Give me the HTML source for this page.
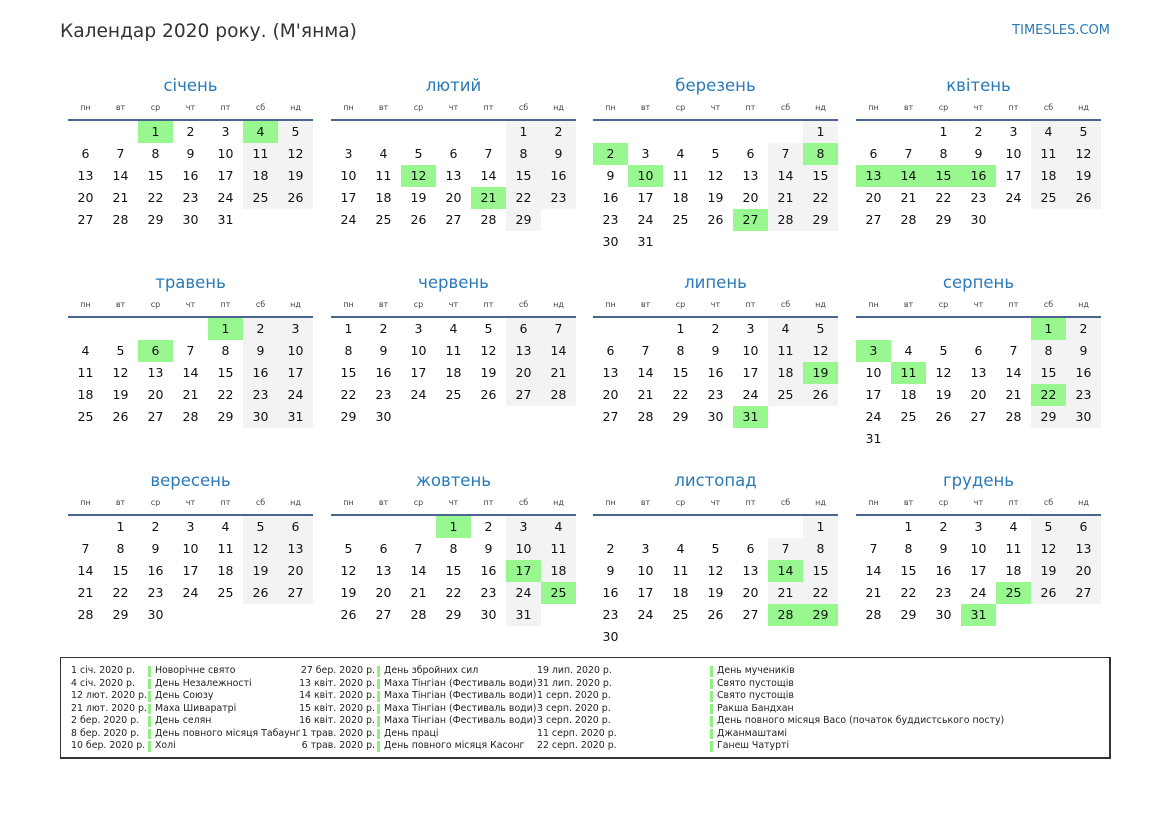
<!DOCTYPE html>
<html><head><meta charset="utf-8"><style>
body{margin:0;width:1169px;height:827px;background:#fff;font-family:"DejaVu Sans","Liberation Sans",sans-serif;position:relative;overflow:hidden}
.h1{position:absolute;left:60px;top:21px;font-size:18.6px;color:#333}
.site{position:absolute;right:59px;top:23px;font-size:13px;color:#2a7ab8}
.m{position:absolute;width:245px;height:200px}
.t{position:absolute;left:0;top:1px;width:245px;height:22px;line-height:22px;text-align:center;font-size:16.5px;color:#2a7ab8}
.d{position:absolute;left:0;top:29px;width:245px;display:flex;font-size:8px;color:#444}
.d span{width:35px;text-align:center}
.ln{position:absolute;left:0;top:45px;width:245px;height:2px;background:#4a6690}
table{position:absolute;left:0;top:47px;border-collapse:collapse}
td{width:35px;height:22px;padding:0;text-align:center;font-size:12.5px;color:#111;line-height:22px}
td.w{background:#f3f3f3}
td.h{background:#99f78f}
.lg{position:absolute;left:60px;top:657px;width:1048px;height:99px;border:1px solid #333;border-width:1px 2px 2px 1px}
.c{position:absolute;top:7px;font-size:9.4px;line-height:12.5px;color:#222;white-space:nowrap}
.b{position:absolute;top:8px;width:3px}
.b i{display:block;height:10.5px;margin-bottom:2px;background:#8ef07f}
</style></head><body>
<div class="h1">Календар 2020 року. (М'янма)</div>
<div class="site">TIMESLES.COM</div>

<div class="m" style="left:68px;top:74px"><div class="t">січень</div><div class="d"><span>пн</span><span>вт</span><span>ср</span><span>чт</span><span>пт</span><span>сб</span><span>нд</span></div><div class="ln"></div><table>
<tr><td></td><td></td><td class="h">1</td><td>2</td><td>3</td><td class="h">4</td><td class="w">5</td></tr>
<tr><td>6</td><td>7</td><td>8</td><td>9</td><td>10</td><td class="w">11</td><td class="w">12</td></tr>
<tr><td>13</td><td>14</td><td>15</td><td>16</td><td>17</td><td class="w">18</td><td class="w">19</td></tr>
<tr><td>20</td><td>21</td><td>22</td><td>23</td><td>24</td><td class="w">25</td><td class="w">26</td></tr>
<tr><td>27</td><td>28</td><td>29</td><td>30</td><td>31</td><td></td><td></td></tr></table></div>

<div class="m" style="left:331px;top:74px"><div class="t">лютий</div><div class="d"><span>пн</span><span>вт</span><span>ср</span><span>чт</span><span>пт</span><span>сб</span><span>нд</span></div><div class="ln"></div><table>
<tr><td></td><td></td><td></td><td></td><td></td><td class="w">1</td><td class="w">2</td></tr>
<tr><td>3</td><td>4</td><td>5</td><td>6</td><td>7</td><td class="w">8</td><td class="w">9</td></tr>
<tr><td>10</td><td>11</td><td class="h">12</td><td>13</td><td>14</td><td class="w">15</td><td class="w">16</td></tr>
<tr><td>17</td><td>18</td><td>19</td><td>20</td><td class="h">21</td><td class="w">22</td><td class="w">23</td></tr>
<tr><td>24</td><td>25</td><td>26</td><td>27</td><td>28</td><td class="w">29</td><td></td></tr></table></div>

<div class="m" style="left:593px;top:74px"><div class="t">березень</div><div class="d"><span>пн</span><span>вт</span><span>ср</span><span>чт</span><span>пт</span><span>сб</span><span>нд</span></div><div class="ln"></div><table>
<tr><td></td><td></td><td></td><td></td><td></td><td></td><td class="w">1</td></tr>
<tr><td class="h">2</td><td>3</td><td>4</td><td>5</td><td>6</td><td class="w">7</td><td class="h">8</td></tr>
<tr><td>9</td><td class="h">10</td><td>11</td><td>12</td><td>13</td><td class="w">14</td><td class="w">15</td></tr>
<tr><td>16</td><td>17</td><td>18</td><td>19</td><td>20</td><td class="w">21</td><td class="w">22</td></tr>
<tr><td>23</td><td>24</td><td>25</td><td>26</td><td class="h">27</td><td class="w">28</td><td class="w">29</td></tr>
<tr><td>30</td><td>31</td><td></td><td></td><td></td><td></td><td></td></tr></table></div>

<div class="m" style="left:856px;top:74px"><div class="t">квітень</div><div class="d"><span>пн</span><span>вт</span><span>ср</span><span>чт</span><span>пт</span><span>сб</span><span>нд</span></div><div class="ln"></div><table>
<tr><td></td><td></td><td>1</td><td>2</td><td>3</td><td class="w">4</td><td class="w">5</td></tr>
<tr><td>6</td><td>7</td><td>8</td><td>9</td><td>10</td><td class="w">11</td><td class="w">12</td></tr>
<tr><td class="h">13</td><td class="h">14</td><td class="h">15</td><td class="h">16</td><td>17</td><td class="w">18</td><td class="w">19</td></tr>
<tr><td>20</td><td>21</td><td>22</td><td>23</td><td>24</td><td class="w">25</td><td class="w">26</td></tr>
<tr><td>27</td><td>28</td><td>29</td><td>30</td><td></td><td></td><td></td></tr></table></div>

<div class="m" style="left:68px;top:271px"><div class="t">травень</div><div class="d"><span>пн</span><span>вт</span><span>ср</span><span>чт</span><span>пт</span><span>сб</span><span>нд</span></div><div class="ln"></div><table>
<tr><td></td><td></td><td></td><td></td><td class="h">1</td><td class="w">2</td><td class="w">3</td></tr>
<tr><td>4</td><td>5</td><td class="h">6</td><td>7</td><td>8</td><td class="w">9</td><td class="w">10</td></tr>
<tr><td>11</td><td>12</td><td>13</td><td>14</td><td>15</td><td class="w">16</td><td class="w">17</td></tr>
<tr><td>18</td><td>19</td><td>20</td><td>21</td><td>22</td><td class="w">23</td><td class="w">24</td></tr>
<tr><td>25</td><td>26</td><td>27</td><td>28</td><td>29</td><td class="w">30</td><td class="w">31</td></tr></table></div>

<div class="m" style="left:331px;top:271px"><div class="t">червень</div><div class="d"><span>пн</span><span>вт</span><span>ср</span><span>чт</span><span>пт</span><span>сб</span><span>нд</span></div><div class="ln"></div><table>
<tr><td>1</td><td>2</td><td>3</td><td>4</td><td>5</td><td class="w">6</td><td class="w">7</td></tr>
<tr><td>8</td><td>9</td><td>10</td><td>11</td><td>12</td><td class="w">13</td><td class="w">14</td></tr>
<tr><td>15</td><td>16</td><td>17</td><td>18</td><td>19</td><td class="w">20</td><td class="w">21</td></tr>
<tr><td>22</td><td>23</td><td>24</td><td>25</td><td>26</td><td class="w">27</td><td class="w">28</td></tr>
<tr><td>29</td><td>30</td><td></td><td></td><td></td><td></td><td></td></tr></table></div>

<div class="m" style="left:593px;top:271px"><div class="t">липень</div><div class="d"><span>пн</span><span>вт</span><span>ср</span><span>чт</span><span>пт</span><span>сб</span><span>нд</span></div><div class="ln"></div><table>
<tr><td></td><td></td><td>1</td><td>2</td><td>3</td><td class="w">4</td><td class="w">5</td></tr>
<tr><td>6</td><td>7</td><td>8</td><td>9</td><td>10</td><td class="w">11</td><td class="w">12</td></tr>
<tr><td>13</td><td>14</td><td>15</td><td>16</td><td>17</td><td class="w">18</td><td class="h">19</td></tr>
<tr><td>20</td><td>21</td><td>22</td><td>23</td><td>24</td><td class="w">25</td><td class="w">26</td></tr>
<tr><td>27</td><td>28</td><td>29</td><td>30</td><td class="h">31</td><td></td><td></td></tr></table></div>

<div class="m" style="left:856px;top:271px"><div class="t">серпень</div><div class="d"><span>пн</span><span>вт</span><span>ср</span><span>чт</span><span>пт</span><span>сб</span><span>нд</span></div><div class="ln"></div><table>
<tr><td></td><td></td><td></td><td></td><td></td><td class="h">1</td><td class="w">2</td></tr>
<tr><td class="h">3</td><td>4</td><td>5</td><td>6</td><td>7</td><td class="w">8</td><td class="w">9</td></tr>
<tr><td>10</td><td class="h">11</td><td>12</td><td>13</td><td>14</td><td class="w">15</td><td class="w">16</td></tr>
<tr><td>17</td><td>18</td><td>19</td><td>20</td><td>21</td><td class="h">22</td><td class="w">23</td></tr>
<tr><td>24</td><td>25</td><td>26</td><td>27</td><td>28</td><td class="w">29</td><td class="w">30</td></tr>
<tr><td>31</td><td></td><td></td><td></td><td></td><td></td><td></td></tr></table></div>

<div class="m" style="left:68px;top:469px"><div class="t">вересень</div><div class="d"><span>пн</span><span>вт</span><span>ср</span><span>чт</span><span>пт</span><span>сб</span><span>нд</span></div><div class="ln"></div><table>
<tr><td></td><td>1</td><td>2</td><td>3</td><td>4</td><td class="w">5</td><td class="w">6</td></tr>
<tr><td>7</td><td>8</td><td>9</td><td>10</td><td>11</td><td class="w">12</td><td class="w">13</td></tr>
<tr><td>14</td><td>15</td><td>16</td><td>17</td><td>18</td><td class="w">19</td><td class="w">20</td></tr>
<tr><td>21</td><td>22</td><td>23</td><td>24</td><td>25</td><td class="w">26</td><td class="w">27</td></tr>
<tr><td>28</td><td>29</td><td>30</td><td></td><td></td><td></td><td></td></tr></table></div>

<div class="m" style="left:331px;top:469px"><div class="t">жовтень</div><div class="d"><span>пн</span><span>вт</span><span>ср</span><span>чт</span><span>пт</span><span>сб</span><span>нд</span></div><div class="ln"></div><table>
<tr><td></td><td></td><td></td><td class="h">1</td><td>2</td><td class="w">3</td><td class="w">4</td></tr>
<tr><td>5</td><td>6</td><td>7</td><td>8</td><td>9</td><td class="w">10</td><td class="w">11</td></tr>
<tr><td>12</td><td>13</td><td>14</td><td>15</td><td>16</td><td class="h">17</td><td class="w">18</td></tr>
<tr><td>19</td><td>20</td><td>21</td><td>22</td><td>23</td><td class="w">24</td><td class="h">25</td></tr>
<tr><td>26</td><td>27</td><td>28</td><td>29</td><td>30</td><td class="w">31</td><td></td></tr></table></div>

<div class="m" style="left:593px;top:469px"><div class="t">листопад</div><div class="d"><span>пн</span><span>вт</span><span>ср</span><span>чт</span><span>пт</span><span>сб</span><span>нд</span></div><div class="ln"></div><table>
<tr><td></td><td></td><td></td><td></td><td></td><td></td><td class="w">1</td></tr>
<tr><td>2</td><td>3</td><td>4</td><td>5</td><td>6</td><td class="w">7</td><td class="w">8</td></tr>
<tr><td>9</td><td>10</td><td>11</td><td>12</td><td>13</td><td class="h">14</td><td class="w">15</td></tr>
<tr><td>16</td><td>17</td><td>18</td><td>19</td><td>20</td><td class="w">21</td><td class="w">22</td></tr>
<tr><td>23</td><td>24</td><td>25</td><td>26</td><td>27</td><td class="h">28</td><td class="h">29</td></tr>
<tr><td>30</td><td></td><td></td><td></td><td></td><td></td><td></td></tr></table></div>

<div class="m" style="left:856px;top:469px"><div class="t">грудень</div><div class="d"><span>пн</span><span>вт</span><span>ср</span><span>чт</span><span>пт</span><span>сб</span><span>нд</span></div><div class="ln"></div><table>
<tr><td></td><td>1</td><td>2</td><td>3</td><td>4</td><td class="w">5</td><td class="w">6</td></tr>
<tr><td>7</td><td>8</td><td>9</td><td>10</td><td>11</td><td class="w">12</td><td class="w">13</td></tr>
<tr><td>14</td><td>15</td><td>16</td><td>17</td><td>18</td><td class="w">19</td><td class="w">20</td></tr>
<tr><td>21</td><td>22</td><td>23</td><td>24</td><td class="h">25</td><td class="w">26</td><td class="w">27</td></tr>
<tr><td>28</td><td>29</td><td>30</td><td class="h">31</td><td></td><td></td><td></td></tr></table></div>

<div class="lg">
<div class="c" style="left:10px">1 січ. 2020 р.<br>4 січ. 2020 р.<br>12 лют. 2020 р.<br>21 лют. 2020 р.<br>2 бер. 2020 р.<br>8 бер. 2020 р.<br>10 бер. 2020 р.</div>
<div class="b" style="left:87px"><i></i><i></i><i></i><i></i><i></i><i></i><i></i></div>
<div class="c" style="left:94px">Новорічне свято<br>День Незалежності<br>День Союзу<br>Маха Шиваратрі<br>День селян<br>День повного місяця Табаунг<br>Холі</div>
<div class="c" style="left:230px;width:84px;text-align:right">27 бер. 2020 р.<br>13 квіт. 2020 р.<br>14 квіт. 2020 р.<br>15 квіт. 2020 р.<br>16 квіт. 2020 р.<br>1 трав. 2020 р.<br>6 трав. 2020 р.</div>
<div class="b" style="left:316px"><i></i><i></i><i></i><i></i><i></i><i></i><i></i></div>
<div class="c" style="left:323px">День збройних сил<br>Маха Тінгіан (Фестиваль води)<br>Маха Тінгіан (Фестиваль води)<br>Маха Тінгіан (Фестиваль води)<br>Маха Тінгіан (Фестиваль води)<br>День праці<br>День повного місяця Касонг</div>
<div class="c" style="left:476px">19 лип. 2020 р.<br>31 лип. 2020 р.<br>1 серп. 2020 р.<br>3 серп. 2020 р.<br>3 серп. 2020 р.<br>11 серп. 2020 р.<br>22 серп. 2020 р.</div>
<div class="b" style="left:649px"><i></i><i></i><i></i><i></i><i></i><i></i><i></i></div>
<div class="c" style="left:656px">День мучеників<br>Свято пустощів<br>Свято пустощів<br>Ракша Бандхан<br>День повного місяця Васо (початок буддистського посту)<br>Джанмаштамі<br>Ганеш Чатурті</div>
</div>
</body></html>
